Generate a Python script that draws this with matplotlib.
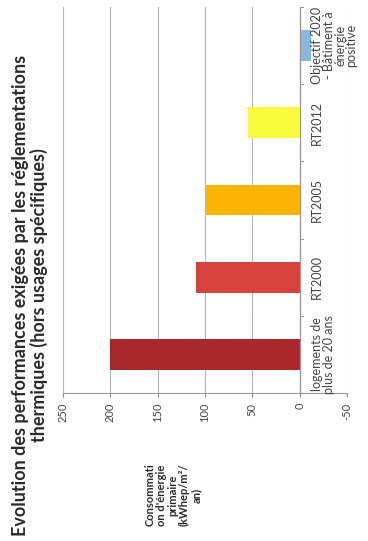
import numpy as np
import matplotlib.pyplot as plt

plt.rcParams['font.family'] = ['Lato', 'DejaVu Sans']

# --- data (chart is drawn rotated 90 degrees, like the scanned page) ---
categories = ["logements de\nplus de 20 ans", "RT2000", "RT2005", "RT2012",
              "Objectif 2020\n- Bâtiment à\nénergie\npositive"]
values = [200, 110, 100, 55, -12]
bar_colors = ["#a8282c", "#d8423d", "#fcb400", "#f8fa3c", "#86b9dc"]
value_ticks = [250, 200, 150, 100, 50, 0, -50]

title = "Evolution des performances exigées par les réglementations\nthermiques (hors usages spécifiques)"
value_label = "Consommati\non d'énergie\nprimaire\n(kWhep/m²/\nan)"

W, H = 368, 541
fig = plt.figure(figsize=(W / 100, H / 100), dpi=100)
ax = fig.add_axes([63 / W, 1 - 393 / H, 284 / W, 386 / H])

pos = np.arange(len(categories))
ax.barh(pos, values, height=0.4, color=bar_colors, zorder=3)

ax.set_xlim(max(value_ticks), min(value_ticks))
ax.set_ylim(-0.5, len(categories) - 0.5)
ax.set_xticks(value_ticks)
ax.set_xticklabels([str(v) for v in value_ticks], rotation=90, fontsize=8, color="#444444")
ax.tick_params(axis="x", length=3, color="#888888", pad=4)
ax.set_yticks([])
ax.xaxis.grid(True, color="#b5b5b5", lw=0.8, zorder=0)

for s in ["top", "left", "right"]:
    ax.spines[s].set_visible(False)
ax.spines["bottom"].set_color("#999999")

# category axis on the zero line, with tick marks between categories
ax.axvline(0, color="#999999", lw=0.9, zorder=4)
for b in np.arange(len(categories) + 1) - 0.5:
    ax.plot([0, -4], [b, b], color="#999999", lw=0.8, zorder=4, clip_on=False)

for i, cat in enumerate(categories):
    ax.text(-12, i, cat, rotation=90, ha="left", va="center", multialignment="center",
            fontsize=9, color="#444444", linespacing=0.95, zorder=5)

fig.text(30 / W, 1 - 295 / H, title, rotation=90, ha="center", va="center",
         multialignment="center", fontsize=13, fontweight="bold", color="#2a2a2a",
         linespacing=1.0)
fig.text(173 / W, 1 - 495 / H, value_label, rotation=90, ha="center", va="center",
         multialignment="center", fontsize=8, fontweight="bold", color="#2a2a2a",
         linespacing=1.05)

fig.savefig("out.png", dpi=100)
